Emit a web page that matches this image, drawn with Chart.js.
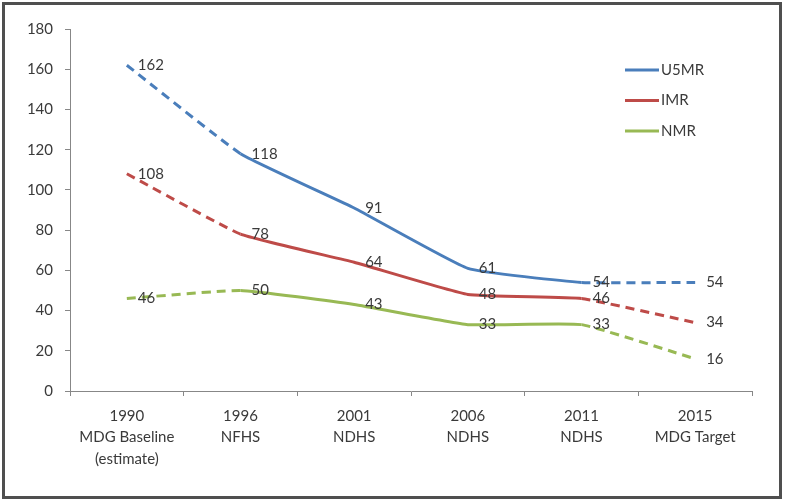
<!DOCTYPE html>
<html>
<head>
<meta charset="utf-8">
<script src="https://cdn.jsdelivr.net/npm/chart.js@4"></script>
<style>
    html, body {margin: 0; padding: 0; background: #fff;}
    #wrap {position: relative; width: 785px; height: 503px;}
    #frame {position: absolute; left: 2px; top: 2px; width: 780px; height: 497px;
        box-sizing: border-box; border: 3px solid #4f4f4f; pointer-events: none;}
</style>
</head>
<body>
<div id="wrap">
    <canvas id="chart" width="785" height="503"></canvas>
    <div id="frame"></div>
</div>
<script>
const categories = [
    ['1990', 'MDG Baseline', '(estimate)'],
    ['1996', 'NFHS'],
    ['2001', 'NDHS'],
    ['2006', 'NDHS'],
    ['2011', 'NDHS'],
    ['2015', 'MDG Target']
];
const u5mr = [162, 118, 91, 61, 54, 54];
const imr = [108, 78, 64, 48, 46, 34];
const nmr = [46, 50, 43, 33, 33, 16];
const yTicks = [0, 20, 40, 60, 80, 100, 120, 140, 160, 180];

const textColor = '#3a3a3a';
const font = {family: 'Lato, "Open Sans", sans-serif', size: 15};

// first and last segments are estimates -> dashed
const dashed = ctx => (ctx.p0DataIndex === 0 || ctx.p1DataIndex === categories.length - 1) ? [9, 6] : undefined;

const makeSet = (label, data, color) => ({
    label: label,
    data: data,
    borderColor: color,
    backgroundColor: color,
    borderWidth: 3,
    pointRadius: 0,
    tension: 0.12,
    segment: {borderDash: dashed}
});

const labelsPlugin = {
    id: 'valueLabels',
    afterDatasetsDraw(chart) {
        const ctx = chart.ctx;
        ctx.save();
        ctx.font = font.size + 'px ' + font.family;
        ctx.fillStyle = textColor;
        ctx.textAlign = 'left';
        ctx.textBaseline = 'middle';
        chart.data.datasets.forEach((ds, i) => {
            chart.getDatasetMeta(i).data.forEach((pt, j) => {
                ctx.fillText(ds.data[j], pt.x + 11, pt.y);
            });
        });
        ctx.restore();
    }
};

const legendPlugin = {
    id: 'insideLegend',
    afterDraw(chart) {
        const ctx = chart.ctx;
        ctx.save();
        ctx.font = font.size + 'px ' + font.family;
        ctx.textAlign = 'left';
        ctx.textBaseline = 'middle';
        chart.data.datasets.forEach((ds, i) => {
            const y = 70 + i * 30.5;
            ctx.strokeStyle = ds.borderColor;
            ctx.lineWidth = 3;
            ctx.beginPath();
            ctx.moveTo(625, y);
            ctx.lineTo(659, y);
            ctx.stroke();
            ctx.fillStyle = textColor;
            ctx.fillText(ds.label, 661, y);
        });
        ctx.restore();
    }
};

new Chart(document.getElementById('chart'), {
    type: 'line',
    data: {
        labels: categories,
        datasets: [
            makeSet('U5MR', u5mr, '#4A7EBB'),
            makeSet('IMR', imr, '#BE4B48'),
            makeSet('NMR', nmr, '#98B954')
        ]
    },
    options: {
        responsive: false,
        animation: false,
        layout: {padding: {top: 29, right: 33, bottom: 0, left: 0}},
        plugins: {legend: {display: false}, tooltip: {enabled: false}},
        scales: {
            x: {
                offset: true,
                grid: {drawOnChartArea: false, color: '#878787', tickLength: 5, offset: true},
                border: {color: '#878787', width: 1},
                ticks: {color: textColor, font: {...font, lineHeight: 1.45}, maxRotation: 0, autoSkip: false, padding: 9},
                afterFit(scale) { scale.height = 112; }
            },
            y: {
                min: 0,
                max: 180,
                afterBuildTicks(scale) { scale.ticks = yTicks.map(v => ({value: v})); },
                grid: {drawOnChartArea: false, color: '#878787', tickLength: 5},
                border: {color: '#878787', width: 1},
                ticks: {color: textColor, font: font, padding: 12},
                afterFit(scale) { scale.width = 70; }
            }
        }
    },
    plugins: [labelsPlugin, legendPlugin]
});
</script>
</body>
</html>
